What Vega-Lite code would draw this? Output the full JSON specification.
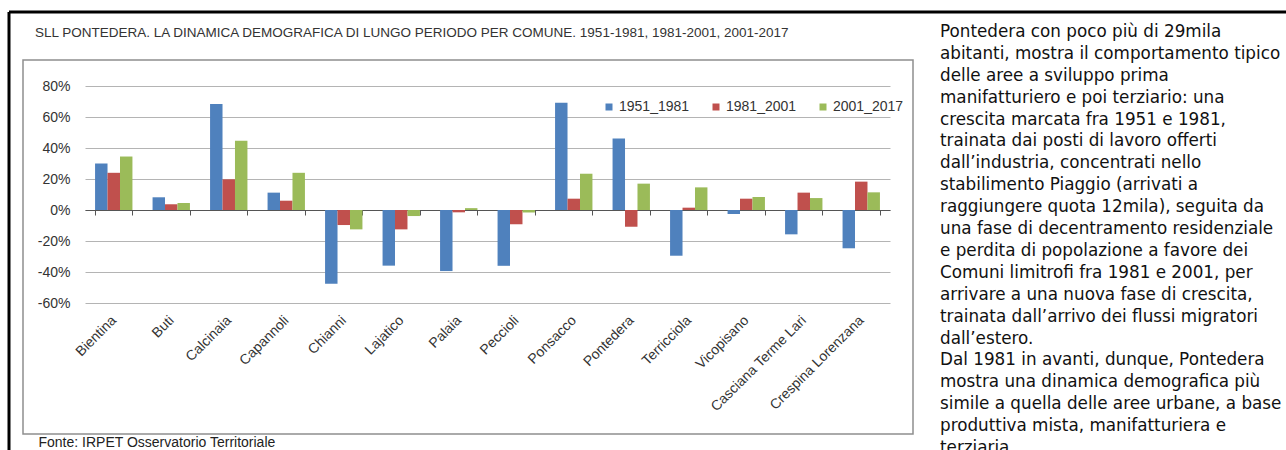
{
  "$schema": "https://vega.github.io/schema/vega-lite/v6.json",
  "width": 805,
  "height": 217,
  "autosize": {"type": "none"},
  "padding": {"left": 85, "top": 86, "right": 396, "bottom": 147},
  "background": "#ffffff",
  "config": {"view": {"stroke": null}, "font": "Liberation Sans"},
  "title": {
    "text": "SLL PONTEDERA. LA DINAMICA DEMOGRAFICA DI LUNGO PERIODO PER COMUNE. 1951-1981, 1981-2001, 2001-2017",
    "anchor": "start", "frame": "group", "offset": 0, "dx": -50, "dy": 35.5,
    "baseline": "middle", "fontSize": 13.5, "fontWeight": "normal", "color": "#333333", "font": "Liberation Sans"
  },
  "layer": [
    {
      "data": {"values": [
        {"lato": "alto", "x0": 0, "x1": 1, "y0": 0, "y1": 0},
        {"lato": "sinistra", "x0": 0, "x1": 0, "y0": 0, "y1": 1}
      ]},
      "mark": {"type": "rule", "color": "#000000", "strokeWidth": 3},
      "encoding": {
        "x": {"field": "x0", "type": "quantitative", "scale": {"domain": [0, 1], "range": [-76, 1201]}, "axis": null},
        "x2": {"field": "x1"},
        "y": {"field": "y0", "type": "quantitative", "scale": {"domain": [0, 1], "range": [-74, 364]}, "axis": null},
        "y2": {"field": "y1"}
      }
    },
    {
      "data": {"values": [{"cornice": "grafico"}]},
      "mark": {"type": "rect", "filled": false, "stroke": "#8f8f8f", "strokeWidth": 1.5},
      "encoding": {
        "x": {"datum": 0, "type": "quantitative", "scale": {"domain": [0, 1], "range": [-62, 828]}, "axis": null},
        "x2": {"datum": 1},
        "y": {"datum": 0, "type": "quantitative", "scale": {"domain": [0, 1], "range": [-26, 348]}, "axis": null},
        "y2": {"datum": 1}
      }
    },
    {
      "data": {"values": [
        {"comune": "Bientina", "periodo": "1951_1981", "valore": 30},
        {"comune": "Bientina", "periodo": "1981_2001", "valore": 24},
        {"comune": "Bientina", "periodo": "2001_2017", "valore": 34.5},
        {"comune": "Buti", "periodo": "1951_1981", "valore": 8.2},
        {"comune": "Buti", "periodo": "1981_2001", "valore": 3.7},
        {"comune": "Buti", "periodo": "2001_2017", "valore": 4.5},
        {"comune": "Calcinaia", "periodo": "1951_1981", "valore": 68.4},
        {"comune": "Calcinaia", "periodo": "1981_2001", "valore": 19.8},
        {"comune": "Calcinaia", "periodo": "2001_2017", "valore": 44.7},
        {"comune": "Capannoli", "periodo": "1951_1981", "valore": 11.2},
        {"comune": "Capannoli", "periodo": "1981_2001", "valore": 6},
        {"comune": "Capannoli", "periodo": "2001_2017", "valore": 24},
        {"comune": "Chianni", "periodo": "1951_1981", "valore": -47.5},
        {"comune": "Chianni", "periodo": "1981_2001", "valore": -9.7},
        {"comune": "Chianni", "periodo": "2001_2017", "valore": -12.5},
        {"comune": "Lajatico", "periodo": "1951_1981", "valore": -35.9},
        {"comune": "Lajatico", "periodo": "1981_2001", "valore": -12.5},
        {"comune": "Lajatico", "periodo": "2001_2017", "valore": -3.9},
        {"comune": "Palaia", "periodo": "1951_1981", "valore": -39.4},
        {"comune": "Palaia", "periodo": "1981_2001", "valore": -1.5},
        {"comune": "Palaia", "periodo": "2001_2017", "valore": 1.2},
        {"comune": "Peccioli", "periodo": "1951_1981", "valore": -36},
        {"comune": "Peccioli", "periodo": "1981_2001", "valore": -9.2},
        {"comune": "Peccioli", "periodo": "2001_2017", "valore": -1.6},
        {"comune": "Ponsacco", "periodo": "1951_1981", "valore": 69.2},
        {"comune": "Ponsacco", "periodo": "1981_2001", "valore": 7.3},
        {"comune": "Ponsacco", "periodo": "2001_2017", "valore": 23.4},
        {"comune": "Pontedera", "periodo": "1951_1981", "valore": 46.2},
        {"comune": "Pontedera", "periodo": "1981_2001", "valore": -10.8},
        {"comune": "Pontedera", "periodo": "2001_2017", "valore": 17},
        {"comune": "Terricciola", "periodo": "1951_1981", "valore": -29.5},
        {"comune": "Terricciola", "periodo": "1981_2001", "valore": 1.5},
        {"comune": "Terricciola", "periodo": "2001_2017", "valore": 14.6},
        {"comune": "Vicopisano", "periodo": "1951_1981", "valore": -2.6},
        {"comune": "Vicopisano", "periodo": "1981_2001", "valore": 7.3},
        {"comune": "Vicopisano", "periodo": "2001_2017", "valore": 8.4},
        {"comune": "Casciana Terme Lari", "periodo": "1951_1981", "valore": -15.7},
        {"comune": "Casciana Terme Lari", "periodo": "1981_2001", "valore": 11.2},
        {"comune": "Casciana Terme Lari", "periodo": "2001_2017", "valore": 7.7},
        {"comune": "Crespina Lorenzana", "periodo": "1951_1981", "valore": -24.7},
        {"comune": "Crespina Lorenzana", "periodo": "1981_2001", "valore": 18.3},
        {"comune": "Crespina Lorenzana", "periodo": "2001_2017", "valore": 11.4}
      ]},
      "mark": {"type": "bar"},
      "encoding": {
        "x": {
          "field": "comune", "type": "nominal", "sort": null,
          "scale": {"paddingInner": 0.35, "paddingOuter": 0.175},
          "axis": {
            "title": "Fonte: IRPET Osservatorio Territoriale",
            "titleX": -47, "titleY": 232, "titleAlign": "left", "titleBaseline": "middle", "titleAnchor": "start",
            "titleFontSize": 14, "titleFontWeight": "normal", "titleColor": "#222222", "titleFont": "Liberation Sans",
            "offset": -93, "tickBand": "extent",
            "domainColor": "#555555", "domainWidth": 1.2, "tickColor": "#555555", "tickSize": 5,
            "labelAngle": -45, "labelAlign": "right", "labelBaseline": "middle", "labelPadding": 103,
            "labelFontSize": 14, "labelColor": "#333333", "labelFont": "Liberation Sans",
            "labelOverlap": false, "labelBound": false
          }
        },
        "xOffset": {"field": "periodo", "type": "nominal", "sort": null, "scale": {"paddingInner": 0, "paddingOuter": 0}},
        "y": {
          "field": "valore", "type": "quantitative",
          "scale": {"domain": [-60, 80], "nice": false},
          "axis": {
            "values": [-60, -40, -20, 0, 20, 40, 60, 80],
            "labelExpr": "datum.value + '%'",
            "domain": false, "ticks": false, "grid": true, "gridColor": "#b4b4b4", "gridWidth": 1,
            "labelFontSize": 14, "labelColor": "#333333", "labelPadding": 15, "title": null, "labelFont": "Liberation Sans"
          }
        },
        "color": {
          "field": "periodo", "type": "nominal", "sort": null,
          "scale": {"domain": ["1951_1981", "1981_2001", "2001_2017"], "range": ["#4F81BD", "#C0504D", "#9BBB59"]},
          "legend": {
            "title": null, "orient": "none", "legendX": 517, "legendY": 14, "direction": "horizontal",
            "symbolType": "square", "symbolSize": 49, "symbolStrokeWidth": 0,
            "labelFontSize": 14, "labelColor": "#333333", "labelOffset": 3, "columnPadding": 19, "labelFont": "Liberation Sans"
          }
        }
      }
    },
    {
      "data": {"values": [
        {"riga": 1, "testo": "Pontedera con poco più di 29mila"},
        {"riga": 2, "testo": "abitanti, mostra il comportamento tipico"},
        {"riga": 3, "testo": "delle aree a sviluppo prima"},
        {"riga": 4, "testo": "manifatturiero e poi terziario: una"},
        {"riga": 5, "testo": "crescita marcata fra 1951 e 1981,"},
        {"riga": 6, "testo": "trainata dai posti di lavoro offerti"},
        {"riga": 7, "testo": "dall’industria, concentrati nello"},
        {"riga": 8, "testo": "stabilimento Piaggio (arrivati a"},
        {"riga": 9, "testo": "raggiungere quota 12mila), seguita da"},
        {"riga": 10, "testo": "una fase di decentramento residenziale"},
        {"riga": 11, "testo": "e perdita di popolazione a favore dei"},
        {"riga": 12, "testo": "Comuni limitrofi fra 1981 e 2001, per"},
        {"riga": 13, "testo": "arrivare a una nuova fase di crescita,"},
        {"riga": 14, "testo": "trainata dall’arrivo dei flussi migratori"},
        {"riga": 15, "testo": "dall’estero."},
        {"riga": 16, "testo": "Dal 1981 in avanti, dunque, Pontedera"},
        {"riga": 17, "testo": "mostra una dinamica demografica più"},
        {"riga": 18, "testo": "simile a quella delle aree urbane, a base"},
        {"riga": 19, "testo": "produttiva mista, manifatturiera e"},
        {"riga": 20, "testo": "terziaria."}
      ]},
      "mark": {"type": "text", "align": "left", "baseline": "middle", "font": "DejaVu Sans", "fontSize": 16.8, "color": "#111111"},
      "encoding": {
        "x": {"datum": 0, "type": "quantitative", "scale": {"domain": [0, 1], "range": [855, 1197]}, "axis": null},
        "y": {"field": "riga", "type": "quantitative", "scale": {"domain": [1, 20], "range": [-54, 362]}, "axis": null},
        "text": {"field": "testo"}
      }
    }
  ],
  "resolve": {"scale": {"x": "independent", "y": "independent"}}
}
